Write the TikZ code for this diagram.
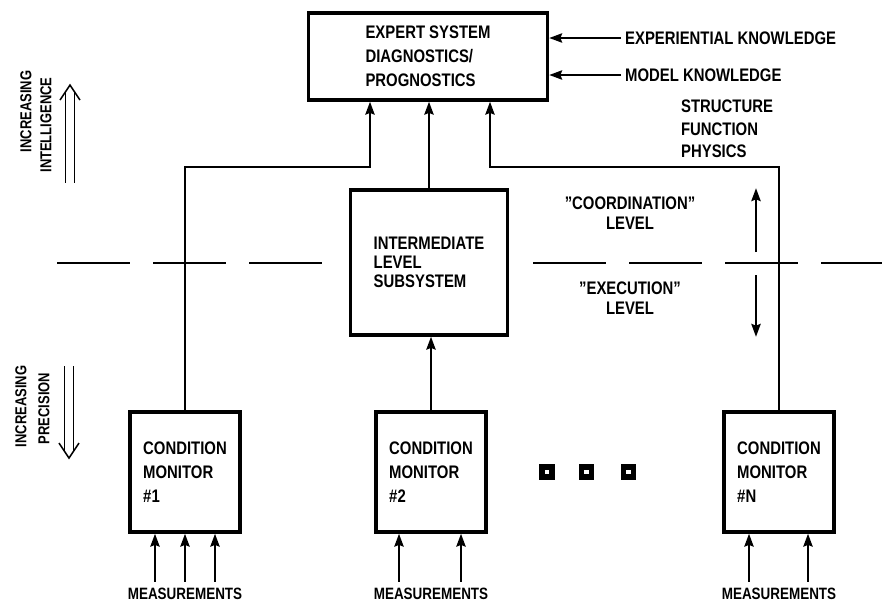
\documentclass[tikz,border=0pt]{standalone}
\usepackage{fontspec}
\setmainfont{Liberation Sans}[FakeStretch=0.82]
\usepackage{tikz}
\usetikzlibrary{calc,positioning,arrows.meta,shapes}

\tikzstyle{arrow} = [line width=1.6pt,-{Stealth[length=11pt,width=8pt,inset=1.5pt]}]
\tikzstyle{line} = [line width=1.6pt]
\tikzstyle{levelline} = [line width=1.5pt, dash pattern=on 62pt off 20pt]
\tikzstyle{hollowShaft} = [line width=1.3pt, double distance=6.4pt]
\tikzstyle{chevron} = [line width=1.3pt, line join=miter]

\begin{document}
\begin{tikzpicture}[x=0.03cm, y=-0.03cm]
\tikzset{%
	block/.style = { rectangle, draw=black, line width=3pt, align=left, font=\bfseries\fontsize{15.5}{20.5}\selectfont },
	monitor/.style = { block, minimum width=3.3cm, minimum height=3.6cm },
	dot/.style = { rectangle, draw=black, line width=4.4pt, minimum size=0.3cm, inner sep=0pt },
	tag/.style = { align=left, font=\bfseries\fontsize{15.5}{19}\selectfont },
	levtag/.style = { align=center, font=\bfseries\fontsize{15.5}{17}\selectfont },
	meas/.style = { font=\bfseries\fontsize{14}{15}\selectfont },
	sidetag/.style = { rotate=90, font=\bfseries\fontsize{13.5}{15}\selectfont }
}
\useasboundingbox (0,0) rectangle (884,608);

\node(Expert)		[block, minimum width=7.17cm, minimum height=2.61cm] at (428,56.5)
								{EXPERT SYSTEM\\DIAGNOSTICS/\\PROGNOSTICS};
\node(Intermediate)	[block, minimum width=4.71cm, minimum height=4.35cm,
								font=\bfseries\fontsize{15.5}{16.5}\selectfont] at (429,262.5)
								{INTERMEDIATE\\LEVEL\\SUBSYSTEM};

\node(MonitorA)		[monitor] at (185,472)
								{CONDITION\\MONITOR\\\#1};
\node(MonitorB)		[monitor] at (431,472)
								{CONDITION\\MONITOR\\\#2};
\node(MonitorN)		[monitor] at (779,472)
								{CONDITION\\MONITOR\\\#N};

\node(DotA)			[dot] at (547,472) {};
\node(DotB)			[dot, right=0.72cm of DotA] {};
\node(DotC)			[dot, right=0.81cm of DotB] {};

\node(MeasA)		[meas, below=1.5cm of MonitorA] {MEASUREMENTS};
\node(MeasB)		[meas, below=1.5cm of MonitorB] {MEASUREMENTS};
\node(MeasN)		[meas, below=1.5cm of MonitorN] {MEASUREMENTS};

\node(ExpKnow)		[tag, anchor=west] at (621,38) {EXPERIENTIAL KNOWLEDGE};
\node(ModKnow)		[tag, anchor=west] at (621,75) {MODEL KNOWLEDGE};
\node(Physics)		[tag, anchor=north west] at (677,96)
								{STRUCTURE\\FUNCTION\\PHYSICS};

\node(Coord)		[levtag] at (630,213) {"COORDINATION"\\LEVEL};
\node(Exec)			[levtag] at (630,298) {"EXECUTION"\\LEVEL};

\node(SmartA)		[sidetag] at (26,111.5) {INCREASING};
\node(SmartB)		[sidetag] at (46,125) {INTELLIGENCE};
\node(PreciseA)		[sidetag] at (21,406.5) {INCREASING};
\node(PreciseB)		[sidetag] at (44,408.5) {PRECISION};

\coordinate (TurnA) at (370,167);
\coordinate (TurnN) at (490,167);
\coordinate (DashA) at (57,263);
\coordinate (DashB) at (323,263);
\coordinate (DashC) at (533,263);
\coordinate (DashD) at (882,263);
\coordinate (LevelUp) at (756,252);
\coordinate (LevelDown) at (756,275);
\coordinate (SmartTip) at (70,85);
\coordinate (SmartBase) at (70,183);
\coordinate (PreciseTop) at (69,366);
\coordinate (PreciseTip) at (69,458);

% monitors up to the expert system
\draw [arrow]	(MonitorA.north) -- (MonitorA.north |- TurnA) -- (TurnA) -- (TurnA |- Expert.south);
\draw [arrow]	(MonitorN.north) -- (MonitorN.north |- TurnN) -- (TurnN) -- (TurnN |- Expert.south);
\draw [arrow]	(Intermediate.north) -- (Intermediate.north |- Expert.south);
\draw [arrow]	(MonitorB.north) -- (MonitorB.north |- Intermediate.south);

\draw [arrow]	(ExpKnow.west) -- (ExpKnow.west -| Expert.east);
\draw [arrow]	(ModKnow.west) -- (ModKnow.west -| Expert.east);

% measurements
\foreach \dx in {-30,0,30}
	\draw [arrow] ($(MonitorA.south)+(\dx,48)$) -- ($(MonitorA.south)+(\dx,0)$);
\foreach \dx in {-32,30}
	\draw [arrow] ($(MonitorB.south)+(\dx,48)$) -- ($(MonitorB.south)+(\dx,0)$);
\foreach \dx in {-30,29}
	\draw [arrow] ($(MonitorN.south)+(\dx,48)$) -- ($(MonitorN.south)+(\dx,0)$);

% level boundary
\draw [levelline]	(DashA) -- (DashB);
\draw [levelline]	(DashC) -- (DashD);
\draw [arrow]	(LevelUp) -- (LevelUp |- Intermediate.north);
\draw [arrow]	(LevelDown) -- (LevelDown |- Intermediate.south);

% intelligence / precision
\draw [hollowShaft]	($(SmartTip)+(0,6.5)$) -- (SmartBase);
\draw [chevron]		($(SmartTip)+(-10,15)$) -- (SmartTip) -- ($(SmartTip)+(10,15)$);
\draw [hollowShaft]	(PreciseTop) -- ($(PreciseTip)+(0,-6.5)$);
\draw [chevron]		($(PreciseTip)+(-10,-15)$) -- (PreciseTip) -- ($(PreciseTip)+(10,-15)$);

\end{tikzpicture}
\end{document}
